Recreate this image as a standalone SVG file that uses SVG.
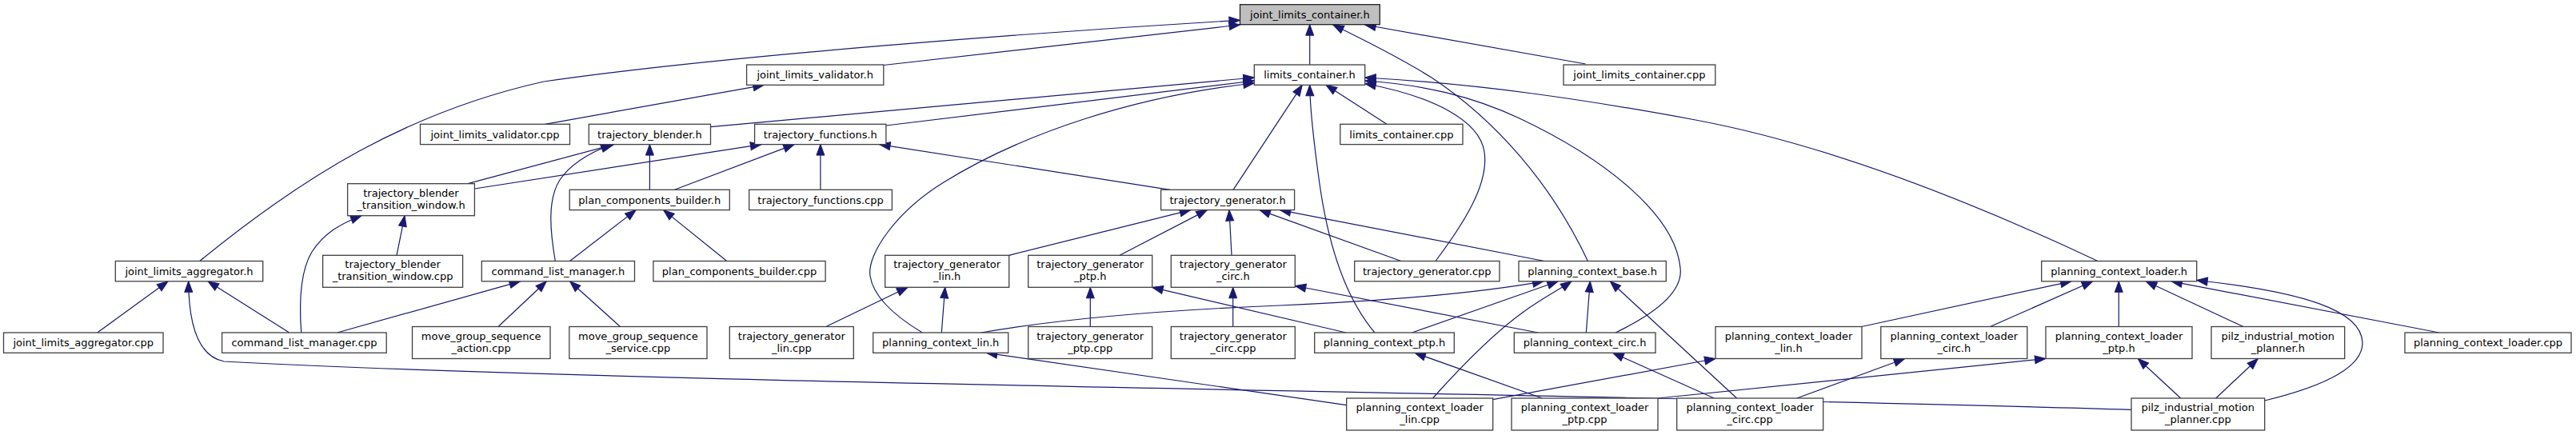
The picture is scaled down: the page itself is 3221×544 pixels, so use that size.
<svg xmlns="http://www.w3.org/2000/svg" width="3221" height="544" viewBox="0 0 3221 544">
<style>
.node rect{fill:#ffffff;stroke:#404040;stroke-width:1.3}
.root rect{fill:#bfbfbf;stroke:#202020}
text{font-family:"DejaVu Sans","Liberation Sans",sans-serif;font-size:13px;fill:#000;text-anchor:middle}
#edges path{fill:none;stroke:#191970;stroke-width:1.2;marker-end:url(#arr)}
</style>
<defs>
<marker id="arr" markerUnits="userSpaceOnUse" markerWidth="14" markerHeight="10" refX="13.5" refY="5" orient="auto" viewBox="0 0 14 10" overflow="visible">
<path d="M0,0 L13.5,5 L0,10 Z" fill="#191970" stroke="#191970" stroke-width="1"/>
</marker>
</defs>
<rect width="3221" height="544" fill="#ffffff"/>
<g id="edges">
<path d="M249.7,326.5 C380,220 510,140 680,102 C900,70 1300,40 1550.5,25.3"/>
<path d="M1104.8,81.5 L1550.5,31"/>
<path d="M1637.7,80.7 L1637.7,30.7"/>
<path d="M1985.4,326.5 C1940,230 1870,150 1790,97 C1750,72 1710,52 1666.7,31"/>
<path d="M1982.6,80 L1706.7,31"/>
<path d="M681.5,155.3 L955.3,106.3"/>
<path d="M888.5,158.6 L1568.3,97"/>
<path d="M1107.9,157 L1568.3,101"/>
<path d="M1153.3,416 C1120,396 1092,372 1088,345 C1084,318 1120,265 1180,228 C1280,166 1420,120 1568.3,104"/>
<path d="M1542,237.3 L1628.3,106.3"/>
<path d="M1719,416 C1680,370 1660,300 1650,230 C1643,180 1638,140 1637.7,106.3"/>
<path d="M1734,155.3 L1658,106.3"/>
<path d="M1795,326.5 C1830,280 1862,230 1856,190 C1850,150 1790,120 1706.7,104.5"/>
<path d="M2623,326.5 C2450,245 2280,180 2120,150 C1980,124 1850,105 1706.7,97"/>
<path d="M2020,416 C2070,392 2105,365 2101,335 C2095,270 2010,200 1900,148 C1840,120 1780,106 1706.7,101"/>
<path d="M585,229.7 L767.6,180.6"/>
<path d="M694.3,326.5 C688,290 684,250 700,225 C715,203 740,190 765,180.6"/>
<path d="M812.4,237.3 L812.4,180.6"/>
<path d="M593.4,236 L951.9,180.6"/>
<path d="M843.4,237.3 L993.2,180.6"/>
<path d="M1025.9,237.3 L1025.9,180.6"/>
<path d="M1463,237.3 L1099.6,180.6"/>
<path d="M496,319.3 L506,269.7"/>
<path d="M376.7,416 C374,380 375,340 390,315 C405,292 425,280 452,269.7"/>
<path d="M712.5,326.5 L795.2,262.6"/>
<path d="M908.8,326.5 L829.6,262.6"/>
<path d="M1261.7,319.3 L1488.8,262.6"/>
<path d="M1400,319.3 L1509.4,262.6"/>
<path d="M1540,319.3 L1537,262.6"/>
<path d="M1751.9,326.5 L1574.9,262.6"/>
<path d="M1931,326.5 L1600.3,262.6"/>
<path d="M1226.7,416 C1330,398 1450,388 1600,382 C1740,376 1850,366 1930,351.8"/>
<path d="M1765.6,416 L1948.3,351.8"/>
<path d="M1791.5,498 C1830,455 1870,415 1905,390 C1930,372 1950,362 1965,351.8"/>
<path d="M1983.3,416 L1988.3,351.8"/>
<path d="M2171.7,498 L2013.3,351.8"/>
<path d="M1032.8,408.5 L1135,359.3"/>
<path d="M1177.3,416 L1181.7,359.3"/>
<path d="M1363.3,408.5 L1363.3,359.3"/>
<path d="M1683,416 L1440.7,359.3"/>
<path d="M1541.7,408.5 L1541.7,359.3"/>
<path d="M1923.3,416 L1619.3,357.5"/>
<path d="M121.7,416 L210,351.8"/>
<path d="M361.7,416 L260,351.8"/>
<path d="M2665,512.3 C2000,492 800,480 280,452 C250,446 236,410 235.7,351.8"/>
<path d="M421.7,416 L650.5,351.8"/>
<path d="M623,408.5 L683.3,351.8"/>
<path d="M775.5,408.5 L712.5,351.8"/>
<path d="M1683.7,506.6 L1233.3,441.3"/>
<path d="M1928.3,498 L1769,441.3"/>
<path d="M2143.3,498 L2016.7,441.3"/>
<path d="M2327.7,408.5 L2590,351.8"/>
<path d="M2488.5,408.5 L2616.7,351.8"/>
<path d="M2649.3,408.5 L2649.3,351.8"/>
<path d="M2805,408.5 L2683.3,351.8"/>
<path d="M3050,416 L2715,351.8"/>
<path d="M2831.7,501 C2910,482 2955,458 2954,428 C2952,388 2880,365 2746.7,350.5"/>
<path d="M1866.5,499.7 L2145,448.5"/>
<path d="M2246.7,498 L2381.7,448.5"/>
<path d="M2073.3,498 L2558,448.5"/>
<path d="M2726.7,498 L2673.3,448.5"/>
<path d="M2770.7,498 L2823.3,448.5"/>
</g>
<g id="n_root" class="node root"><rect x="1550.5" y="5.7" width="174.8" height="25"/><text x="1637.9" y="22.7">joint_limits_container.h</text></g>
<g id="n_jlvh" class="node"><rect x="933.6" y="81" width="171.2" height="25.3"/><text x="1019.2" y="98.2">joint_limits_validator.h</text></g>
<g id="n_lch" class="node"><rect x="1568.3" y="81" width="138.4" height="25.3"/><text x="1637.5" y="98.2">limits_container.h</text></g>
<g id="n_jlccpp" class="node"><rect x="1955" y="81" width="189.8" height="25.3"/><text x="2049.9" y="98.2">joint_limits_container.cpp</text></g>
<g id="n_jlvcpp" class="node"><rect x="525.5" y="155.3" width="187" height="25.3"/><text x="619" y="172.5">joint_limits_validator.cpp</text></g>
<g id="n_tbh" class="node"><rect x="736.3" y="155.3" width="152.2" height="25.3"/><text x="812.4" y="172.5">trajectory_blender.h</text></g>
<g id="n_tfh" class="node"><rect x="943.6" y="155.3" width="164.3" height="25.3"/><text x="1025.8" y="172.5">trajectory_functions.h</text></g>
<g id="n_lccpp" class="node"><rect x="1675.8" y="155.3" width="153.2" height="25.3"/><text x="1752.4" y="172.5">limits_container.cpp</text></g>
<g id="n_tbtwh" class="node"><rect x="434.6" y="229.7" width="158.8" height="40"/><text x="514" y="245.7">trajectory_blender</text><text x="514" y="260.7">_transition_window.h</text></g>
<g id="n_pcbuilderh" class="node"><rect x="712.2" y="237.3" width="200.1" height="25.3"/><text x="812.3" y="254.5">plan_components_builder.h</text></g>
<g id="n_tfcpp" class="node"><rect x="936.7" y="237.3" width="178.7" height="25.3"/><text x="1026" y="254.5">trajectory_functions.cpp</text></g>
<g id="n_tgh" class="node"><rect x="1451.6" y="237.3" width="167" height="25.3"/><text x="1535.1" y="254.5">trajectory_generator.h</text></g>
<g id="n_jlah" class="node"><rect x="144.3" y="326.5" width="184.4" height="25.3"/><text x="236.5" y="343.7">joint_limits_aggregator.h</text></g>
<g id="n_tbtwcpp" class="node"><rect x="403.6" y="319.3" width="175" height="40"/><text x="491.1" y="335.3">trajectory_blender</text><text x="491.1" y="350.3">_transition_window.cpp</text></g>
<g id="n_clmh" class="node"><rect x="602.3" y="326.5" width="191.2" height="25.3"/><text x="697.9" y="343.7">command_list_manager.h</text></g>
<g id="n_pcbcpp" class="node"><rect x="816.9" y="326.5" width="215.2" height="25.3"/><text x="924.5" y="343.7">plan_components_builder.cpp</text></g>
<g id="n_tglh" class="node"><rect x="1106.7" y="319.3" width="155" height="40"/><text x="1184.2" y="335.3">trajectory_generator</text><text x="1184.2" y="350.3">_lin.h</text></g>
<g id="n_tgph" class="node"><rect x="1285.7" y="319.3" width="155" height="40"/><text x="1363.2" y="335.3">trajectory_generator</text><text x="1363.2" y="350.3">_ptp.h</text></g>
<g id="n_tgch" class="node"><rect x="1464.3" y="319.3" width="155" height="40"/><text x="1541.8" y="335.3">trajectory_generator</text><text x="1541.8" y="350.3">_circ.h</text></g>
<g id="n_tgcpp" class="node"><rect x="1693.7" y="326.5" width="181.3" height="25.3"/><text x="1784.3" y="343.7">trajectory_generator.cpp</text></g>
<g id="n_pcbh" class="node"><rect x="1899" y="326.5" width="184.3" height="25.3"/><text x="1991.1" y="343.7">planning_context_base.h</text></g>
<g id="n_plch" class="node"><rect x="2552.7" y="326.5" width="194" height="25.3"/><text x="2649.7" y="343.7">planning_context_loader.h</text></g>
<g id="n_jlacpp" class="node"><rect x="4.5" y="416" width="199.5" height="25.3"/><text x="104.2" y="433.2">joint_limits_aggregator.cpp</text></g>
<g id="n_clmcpp" class="node"><rect x="277.6" y="416" width="205.6" height="25.3"/><text x="380.4" y="433.2">command_list_manager.cpp</text></g>
<g id="n_mgsa" class="node"><rect x="515.5" y="408.5" width="172.5" height="40"/><text x="601.7" y="424.5">move_group_sequence</text><text x="601.7" y="439.5">_action.cpp</text></g>
<g id="n_mgss" class="node"><rect x="711.8" y="408.5" width="172.2" height="40"/><text x="797.9" y="424.5">move_group_sequence</text><text x="797.9" y="439.5">_service.cpp</text></g>
<g id="n_tglcpp" class="node"><rect x="912.3" y="408.5" width="155" height="40"/><text x="989.8" y="424.5">trajectory_generator</text><text x="989.8" y="439.5">_lin.cpp</text></g>
<g id="n_pclh" class="node"><rect x="1091.7" y="416" width="169" height="25.3"/><text x="1176.2" y="433.2">planning_context_lin.h</text></g>
<g id="n_tgpcpp" class="node"><rect x="1285.7" y="408.5" width="155" height="40"/><text x="1363.2" y="424.5">trajectory_generator</text><text x="1363.2" y="439.5">_ptp.cpp</text></g>
<g id="n_tgccpp" class="node"><rect x="1464.3" y="408.5" width="155" height="40"/><text x="1541.8" y="424.5">trajectory_generator</text><text x="1541.8" y="439.5">_circ.cpp</text></g>
<g id="n_pcph" class="node"><rect x="1643.7" y="416" width="174.6" height="25.3"/><text x="1731" y="433.2">planning_context_ptp.h</text></g>
<g id="n_pcch" class="node"><rect x="1893.3" y="416" width="176.7" height="25.3"/><text x="1981.6" y="433.2">planning_context_circ.h</text></g>
<g id="n_plclinh" class="node"><rect x="2145" y="408.5" width="183" height="40"/><text x="2236.5" y="424.5">planning_context_loader</text><text x="2236.5" y="439.5">_lin.h</text></g>
<g id="n_plccirch" class="node"><rect x="2351.8" y="408.5" width="183" height="40"/><text x="2443.3" y="424.5">planning_context_loader</text><text x="2443.3" y="439.5">_circ.h</text></g>
<g id="n_plcptph" class="node"><rect x="2558" y="408.5" width="183" height="40"/><text x="2649.5" y="424.5">planning_context_loader</text><text x="2649.5" y="439.5">_ptp.h</text></g>
<g id="n_pimph" class="node"><rect x="2765" y="408.5" width="166.7" height="40"/><text x="2848.3" y="424.5">pilz_industrial_motion</text><text x="2848.3" y="439.5">_planner.h</text></g>
<g id="n_plccpp" class="node"><rect x="3007" y="416" width="208" height="25.3"/><text x="3111" y="433.2">planning_context_loader.cpp</text></g>
<g id="n_plclincpp" class="node"><rect x="1683.7" y="498" width="183" height="40"/><text x="1775.2" y="514">planning_context_loader</text><text x="1775.2" y="529">_lin.cpp</text></g>
<g id="n_plcptpcpp" class="node"><rect x="1890" y="498" width="183" height="40"/><text x="1981.5" y="514">planning_context_loader</text><text x="1981.5" y="529">_ptp.cpp</text></g>
<g id="n_plccirccpp" class="node"><rect x="2096.7" y="498" width="183" height="40"/><text x="2188.2" y="514">planning_context_loader</text><text x="2188.2" y="529">_circ.cpp</text></g>
<g id="n_pimpcpp" class="node"><rect x="2665" y="498" width="166.7" height="40"/><text x="2748.3" y="514">pilz_industrial_motion</text><text x="2748.3" y="529">_planner.cpp</text></g>
</svg>
